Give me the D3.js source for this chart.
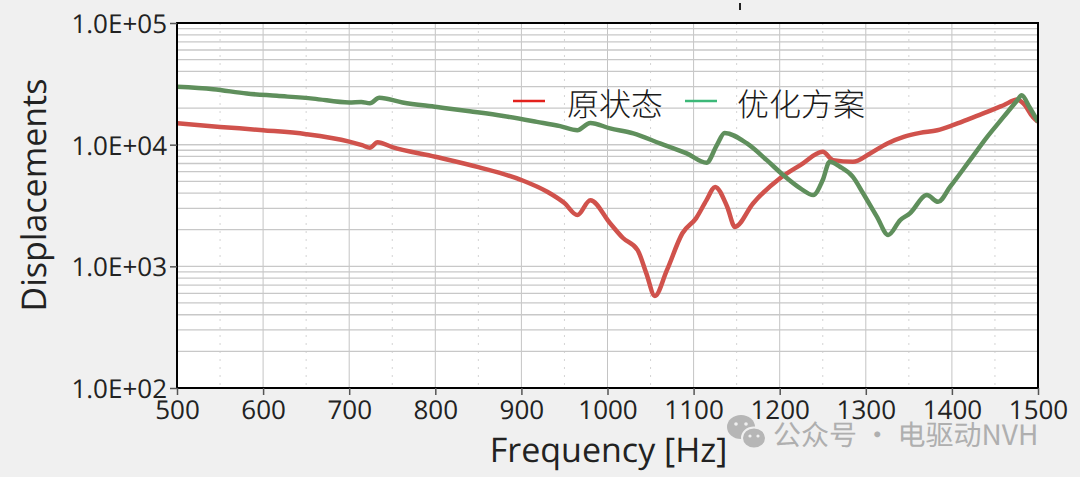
<!DOCTYPE html>
<html><head><meta charset="utf-8">
<script src="https://cdn.jsdelivr.net/npm/d3@7"></script>
<style>
html,body{margin:0;padding:0;background:#f0f0f0;}
svg{display:block;}
text{text-rendering:geometricPrecision;}
</style></head>
<body>
<svg id="chart" width="1080" height="477"></svg>
<script>
// ---- data ----
const xTicks = [500,600,700,800,900,1000,1100,1200,1300,1400,1500];
const yTickValues = [100,1000,10000,100000];
const yTickLabels = ["1.0E+02","1.0E+03","1.0E+04","1.0E+05"];
const seriesNames = ["原状态","优化方案"];
const xTitle = "Frequency [Hz]";
const yTitle = "Displacements";
const watermark = "公众号 · 电驱动NVH";

const origFreq = [500,550,600,650,700,715,724,733,750,800,850,900,930,950,965,980,1003,1018,1035,1045,1055,1069,1087,1103,1115,1125,1139,1148,1169,1200,1224,1250,1262,1285,1305,1325,1344,1363,1383,1401,1421,1441,1460,1476,1483,1494,1500];
const origVal  = [15000,14000,13150,12200,10600,9900,9450,10470,9550,7950,6530,5120,4100,3310,2640,3500,2260,1710,1360,880,570,930,1870,2490,3500,4490,3090,2110,3290,5270,6790,8730,7460,7230,8470,10240,11590,12500,13150,14450,16400,18600,21100,23500,21800,16900,15400];

const optFreq = [500,542,581,616,658,700,714,724,735,762,802,840,879,918,945,965,980,1003,1030,1061,1092,1115,1127,1136,1162,1185,1204,1224,1239,1250,1258,1270,1285,1297,1313,1326,1340,1351,1371,1384,1398,1421,1441,1460,1476,1481,1490,1500];
const optVal  = [29900,28600,26300,25200,23900,22200,22400,21900,24300,22200,20400,18800,17200,15400,14200,13150,15100,13600,12400,10230,8470,7100,9910,12500,10230,7460,5630,4370,3850,5120,7230,6580,5440,3970,2550,1810,2400,2720,3850,3390,4510,7460,11590,16900,23200,25500,20400,15400];

// ---- layout ----
const W = 1080, H = 477;
const m = {left:177, right:42, top:23, bottom:89};
const iw = W - m.left - m.right, ih = H - m.top - m.bottom;
const svg = d3.select("#chart");

const x = d3.scaleLinear().domain([500,1500]).range([m.left, m.left+iw]);
const y = d3.scaleLog().domain([100,100000]).range([m.top+ih, m.top]);

// plot background
svg.append("rect").attr("x",m.left).attr("y",m.top).attr("width",iw).attr("height",ih).attr("fill","#ffffff");

// grid
const g = svg.append("g");
const minorX = d3.range(550,1500,100);
g.selectAll(".vminor").data(minorX).enter().append("line")
  .attr("x1",d=>x(d)).attr("x2",d=>x(d)).attr("y1",m.top).attr("y2",m.top+ih)
  .attr("stroke","#d4d4d4").attr("stroke-width",1).attr("stroke-dasharray","2,6");
g.selectAll(".vmajor").data(xTicks.slice(1,-1)).enter().append("line")
  .attr("x1",d=>x(d)).attr("x2",d=>x(d)).attr("y1",m.top).attr("y2",m.top+ih)
  .attr("stroke","#c4c4c4").attr("stroke-width",1);
const hLines = [];
[100,1000,10000].forEach(dec=>{for(let k=1;k<=9;k++){ if(dec*k>100) hLines.push(dec*k);} });
hLines.push(10000);
g.selectAll(".h").data(hLines).enter().append("line")
  .attr("x1",m.left).attr("x2",m.left+iw).attr("y1",d=>y(d)).attr("y2",d=>y(d))
  .attr("stroke","#c8c8c8").attr("stroke-width",1.3);

// curves
const line = d3.line().x(d=>x(d[0])).y(d=>y(d[1])).curve(d3.curveMonotoneX);
const orig = origFreq.map((f,i)=>[f,origVal[i]]);
const opt = optFreq.map((f,i)=>[f,optVal[i]]);
const clip = svg.append("clipPath").attr("id","clip").append("rect")
  .attr("x",m.left).attr("y",m.top).attr("width",iw).attr("height",ih);
const cg = svg.append("g").attr("clip-path","url(#clip)");
cg.append("path").datum(orig).attr("d",line).attr("fill","none")
  .attr("stroke","#d0524c").attr("stroke-width",4.5).attr("stroke-linejoin","round");
cg.append("path").datum(opt).attr("d",line).attr("fill","none")
  .attr("stroke","#5f8f5c").attr("stroke-width",4.5).attr("stroke-linejoin","round");

// frame
svg.append("rect").attr("x",m.left).attr("y",m.top).attr("width",iw).attr("height",ih)
  .attr("fill","none").attr("stroke","#000").attr("stroke-width",2);

// axes
const font = "'Open Sans', 'Noto Sans', sans-serif";
const xAxis = d3.axisBottom(x).tickValues(xTicks).tickFormat(d3.format("d")).tickSize(7).tickPadding(6);
const xg = svg.append("g").attr("transform",`translate(0,${m.top+ih})`).call(xAxis);
xg.select(".domain").remove();
xg.selectAll("line").attr("stroke","#555").attr("stroke-width",1.5);
xg.selectAll("text").attr("font-family",font).attr("font-size",26).attr("fill","#222");

const yAxis = d3.axisLeft(y).tickValues(yTickValues).tickFormat((d,i)=>yTickLabels[i]).tickSize(7).tickPadding(3);
const yg = svg.append("g").attr("transform",`translate(${m.left},0)`).call(yAxis);
yg.select(".domain").remove();
yg.selectAll("line").attr("stroke","#555").attr("stroke-width",1.5);
yg.selectAll("text").attr("font-family",font).attr("font-size",26).attr("fill","#222").attr("dy","0.36em");

// titles
svg.append("text").attr("x",(m.left+m.left+iw)/2+1).attr("y",462).attr("text-anchor","middle")
  .attr("font-family",font).attr("font-size",34).attr("fill","#222").text(xTitle);
svg.append("text").attr("transform","translate(46,195) rotate(-90)").attr("text-anchor","middle")
  .attr("font-family",font).attr("font-size",34).attr("fill","#222").text(yTitle);

// legend
const cjk = "'Noto Sans CJK SC', sans-serif";
const legColors = ["#e3211c","#3cb878"];
const legX = [513,685], legTextX = [567,737];
seriesNames.forEach((n,i)=>{
  svg.append("line").attr("x1",legX[i]).attr("x2",legX[i]+32).attr("y1",101).attr("y2",101)
    .attr("stroke",legColors[i]).attr("stroke-width",2.5);
  svg.append("text").attr("x",legTextX[i]).attr("y",103).attr("dominant-baseline","central")
    .attr("font-family",cjk).attr("font-weight",300).attr("font-size",32).attr("fill","#1a1a1a").text(n);
});

// small artifact mark at top
svg.append("line").attr("x1",740).attr("x2",740).attr("y1",3).attr("y2",10).attr("stroke","#222").attr("stroke-width",2);

// watermark
const wm = svg.append("g").attr("opacity",0.9);
wm.append("ellipse").attr("cx",741).attr("cy",427).attr("rx",14).attr("ry",12).attr("fill","#b0b0b0");
wm.append("ellipse").attr("cx",754).attr("cy",438).attr("rx",12).attr("ry",10.5).attr("fill","#b0b0b0").attr("stroke","#f0f0f0").attr("stroke-width",2);
[[736,424],[746,424]].forEach(p=>wm.append("circle").attr("cx",p[0]).attr("cy",p[1]).attr("r",1.8).attr("fill","#f0f0f0"));
[[750,436],[758,436]].forEach(p=>wm.append("circle").attr("cx",p[0]).attr("cy",p[1]).attr("r",1.6).attr("fill","#f0f0f0"));
wm.append("text").attr("x",773).attr("y",434).attr("dominant-baseline","central")
  .attr("font-family",cjk).attr("font-size",28).attr("fill","#a8a8a8").text(watermark);
</script>
</body></html>
